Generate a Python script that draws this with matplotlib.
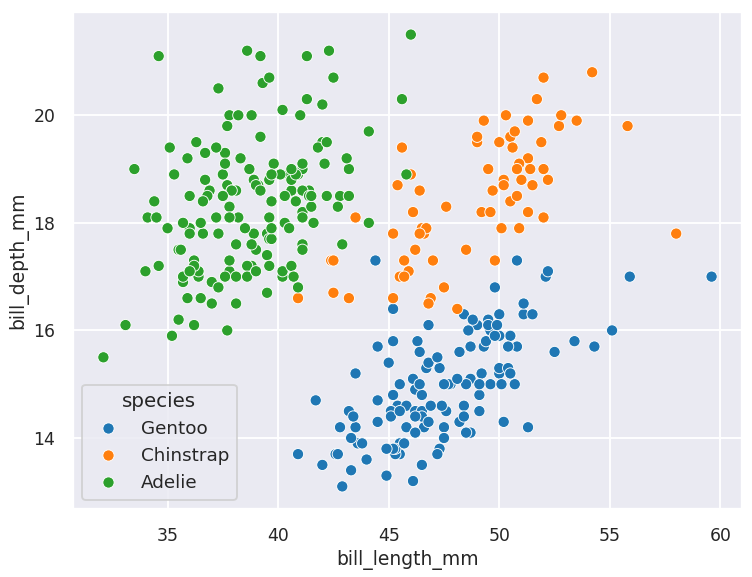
import matplotlib
matplotlib.use("Agg")
import matplotlib.pyplot as plt
import pandas as pd
import seaborn as sns

# bill length / depth per species
gentoo_length = [46.1, 50.0, 48.7, 50.0, 47.6, 46.5, 45.4, 46.7, 43.3, 46.8, 40.9, 49.0, 45.5, 48.4,
                 45.8, 49.3, 42.0, 49.2, 46.2, 48.7, 50.2, 45.1, 46.5, 46.3, 42.9, 46.1, 44.5, 47.8,
                 48.2, 50.0, 47.3, 42.8, 45.1, 59.6, 49.1, 48.4, 42.6, 44.4, 44.0, 48.7, 42.7, 49.6,
                 45.3, 49.6, 50.5, 43.6, 45.5, 50.5, 44.9, 45.2, 46.6, 48.5, 45.1, 50.1, 46.5, 45.0,
                 43.8, 45.5, 43.2, 50.4, 45.3, 46.2, 45.7, 54.3, 45.8, 49.8, 46.2, 49.5, 43.5, 50.7,
                 47.7, 46.4, 48.2, 46.5, 46.4, 48.6, 47.5, 51.1, 45.2, 45.2, 49.1, 52.5, 47.4, 50.0,
                 44.9, 50.8, 43.4, 51.3, 47.5, 52.1, 47.5, 52.2, 45.5, 49.5, 44.5, 50.8, 49.4, 46.9,
                 48.4, 51.1, 48.5, 55.9, 47.2, 49.1, 47.3, 46.8, 41.7, 53.4, 43.3, 48.1, 50.5, 49.8,
                 43.5, 51.5, 46.2, 55.1, 44.5, 48.8, 47.2, 46.8, 50.4, 45.2, 49.9]
gentoo_depth = [13.2, 16.3, 14.1, 15.2, 14.5, 13.5, 14.6, 15.3, 13.4, 15.4, 13.7, 16.1, 13.7, 14.6,
                14.6, 15.7, 13.5, 15.2, 14.5, 15.1, 14.3, 14.5, 14.5, 15.8, 13.1, 15.1, 14.3, 15.0,
                14.3, 15.3, 15.3, 14.2, 14.5, 17.0, 14.8, 16.3, 13.7, 17.3, 13.6, 15.7, 13.7, 16.0,
                13.7, 15.0, 15.9, 13.9, 13.9, 15.9, 13.3, 15.8, 14.2, 14.1, 14.4, 15.0, 14.4, 15.4,
                13.9, 15.0, 14.5, 15.3, 13.8, 14.9, 13.9, 15.7, 14.2, 16.8, 14.4, 16.2, 14.2, 15.0,
                15.0, 15.6, 15.6, 14.8, 15.0, 16.0, 14.2, 16.3, 13.8, 16.4, 14.5, 15.6, 14.6, 15.9,
                13.8, 17.3, 14.4, 14.2, 14.0, 17.0, 15.0, 17.1, 14.5, 16.1, 14.7, 15.7, 15.8, 14.6,
                14.4, 16.5, 15.0, 17.0, 15.5, 15.0, 13.8, 16.1, 14.7, 15.8, 14.0, 15.1, 15.2, 15.9,
                15.2, 16.3, 14.1, 16.0, 15.7, 16.2, 13.7, 14.3, 15.7, 14.8, 16.1]

chinstrap_length = [46.5, 50.0, 51.3, 45.4, 52.7, 45.2, 46.1, 51.3, 46.0, 51.3, 46.6, 51.7, 47.0, 52.0,
                    45.9, 50.5, 50.3, 58.0, 46.4, 49.2, 42.4, 48.5, 43.2, 50.6, 46.7, 52.0, 50.5, 49.5,
                    46.4, 52.8, 40.9, 54.2, 42.5, 51.0, 49.7, 47.5, 47.6, 52.0, 46.9, 53.5, 49.0, 46.2,
                    50.9, 45.5, 50.9, 50.8, 50.1, 49.0, 51.5, 49.8, 48.1, 51.4, 45.7, 50.7, 42.5, 52.2,
                    45.2, 49.3, 50.2, 45.6, 51.9, 46.8, 45.7, 55.8, 43.5, 49.6, 50.8, 50.2]
chinstrap_depth = [17.9, 19.5, 19.2, 18.7, 19.8, 17.8, 18.2, 18.2, 18.9, 19.9, 17.8, 20.3, 17.3, 18.1,
                   17.1, 19.6, 20.0, 17.8, 18.6, 18.2, 17.3, 17.5, 16.6, 19.4, 17.9, 19.0, 18.4, 19.0,
                   17.8, 20.0, 16.6, 20.8, 16.7, 18.8, 18.6, 16.8, 18.3, 20.7, 16.6, 19.9, 19.5, 17.5,
                   19.1, 17.0, 17.9, 18.5, 17.9, 19.6, 18.7, 17.3, 16.4, 19.0, 17.3, 19.7, 17.3, 18.8,
                   16.6, 19.9, 18.8, 19.4, 19.5, 16.5, 17.0, 19.8, 18.1, 18.2, 19.0, 18.7]

adelie_length = [39.1, 39.5, 40.3, 36.7, 39.3, 38.9, 39.2, 34.1, 42.0, 37.8, 37.8, 41.1, 38.6, 34.6,
                 36.6, 38.7, 42.5, 34.4, 46.0, 37.8, 37.7, 35.9, 38.2, 38.8, 35.3, 40.6, 40.5, 37.9,
                 40.5, 39.5, 37.2, 39.5, 40.9, 36.4, 39.2, 38.8, 42.2, 37.6, 39.8, 36.5, 40.8, 36.0,
                 44.1, 37.0, 39.6, 41.1, 37.5, 36.0, 42.3, 39.6, 40.1, 35.0, 42.0, 34.5, 41.4, 39.0,
                 40.6, 36.5, 37.6, 35.7, 41.3, 37.6, 41.1, 36.4, 41.6, 35.5, 41.1, 35.9, 41.8, 33.5,
                 39.7, 39.6, 45.8, 35.5, 42.8, 40.9, 37.2, 36.2, 42.1, 34.6, 42.9, 36.7, 35.1, 37.3,
                 41.3, 36.3, 36.9, 38.3, 38.9, 35.7, 41.1, 34.0, 39.6, 36.2, 40.8, 38.1, 40.3, 33.1,
                 43.2, 35.0, 41.0, 37.7, 37.8, 37.9, 39.7, 38.6, 38.2, 38.1, 43.2, 38.1, 45.6, 39.7,
                 42.2, 39.6, 42.7, 38.6, 37.3, 35.7, 41.1, 36.2, 37.7, 40.2, 41.4, 35.2, 40.6, 38.8,
                 41.5, 39.0, 44.1, 38.5, 43.1, 36.8, 37.5, 38.1, 41.1, 35.6, 40.2, 37.0, 39.7, 40.2,
                 40.6, 32.1, 40.7, 37.3, 39.0, 39.2, 36.6, 36.0, 37.8, 36.0, 41.5]
adelie_depth = [18.7, 17.4, 18.0, 19.3, 20.6, 17.8, 19.6, 18.1, 20.2, 17.1, 17.3, 17.6, 21.2, 21.1,
                17.8, 19.0, 20.7, 18.4, 21.5, 18.3, 18.7, 19.2, 18.1, 17.2, 18.9, 18.6, 17.9, 18.6,
                18.9, 16.7, 18.1, 17.8, 18.9, 17.0, 21.1, 20.0, 18.5, 19.3, 19.1, 18.0, 18.4, 18.5,
                19.7, 16.9, 18.8, 19.0, 18.9, 17.9, 21.2, 17.7, 18.9, 17.9, 19.5, 18.1, 18.6, 17.5,
                18.8, 16.6, 19.1, 16.9, 21.1, 17.0, 18.2, 17.1, 18.0, 16.2, 19.1, 16.6, 19.4, 19.0,
                18.4, 17.2, 18.9, 17.5, 18.5, 16.8, 19.4, 16.1, 19.1, 17.2, 17.6, 18.8, 19.4, 17.8,
                20.3, 19.5, 18.6, 19.2, 18.8, 18.0, 18.1, 17.1, 18.1, 17.3, 18.9, 18.6, 18.5, 16.1,
                18.5, 17.9, 20.0, 16.0, 20.0, 18.6, 18.9, 17.2, 20.0, 17.0, 19.0, 16.5, 20.3, 17.7,
                19.5, 20.7, 18.3, 17.0, 20.5, 17.0, 18.6, 17.2, 19.8, 17.0, 18.5, 15.9, 19.0, 17.6,
                18.3, 17.1, 18.0, 17.9, 19.2, 18.5, 18.5, 17.6, 17.5, 17.5, 20.1, 16.5, 17.9, 17.1,
                17.2, 15.5, 17.0, 16.8, 18.7, 18.6, 18.4, 17.8, 18.1, 17.1, 18.5]

species = ["Gentoo", "Chinstrap", "Adelie"]
colors = ["#1f77b4", "#ff7f0e", "#2ca02c"]

df = pd.concat([
    pd.DataFrame({"bill_length_mm": gentoo_length, "bill_depth_mm": gentoo_depth, "species": "Gentoo"}),
    pd.DataFrame({"bill_length_mm": chinstrap_length, "bill_depth_mm": chinstrap_depth, "species": "Chinstrap"}),
    pd.DataFrame({"bill_length_mm": adelie_length, "bill_depth_mm": adelie_depth, "species": "Adelie"}),
], ignore_index=True)

sns.set_theme(style="darkgrid")
plt.rcParams["font.family"] = ["DejaVu Sans"]
plt.rcParams["axes.labelsize"] = 10
plt.rcParams["axes.labelpad"] = 2.5
plt.rcParams["xtick.labelsize"] = 9.2
plt.rcParams["ytick.labelsize"] = 9.2
plt.rcParams["legend.fontsize"] = 9.8
plt.rcParams["legend.title_fontsize"] = 10.6

dpi = 135
fig = plt.figure(figsize=(752 / dpi, 577 / dpi), dpi=dpi)
ax = fig.add_axes([73 / 752, 1 - 509 / 577, (742 - 73) / 752, (509 - 12) / 577])
sns.scatterplot(data=df, x="bill_length_mm", y="bill_depth_mm", hue="species",
                hue_order=species, palette=colors, s=36, ax=ax)
sns.move_legend(ax, "lower left")

fig.savefig("out.png", dpi=dpi)
